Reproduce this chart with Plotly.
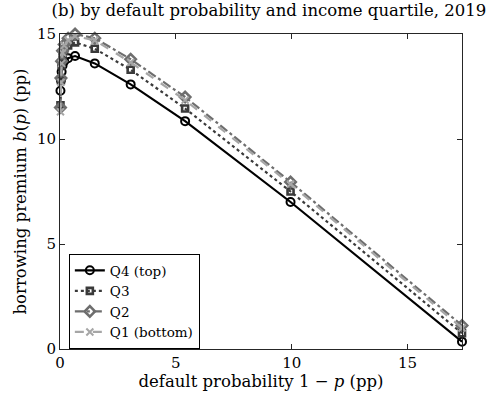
import plotly.graph_objects as go

# Default probability 1 - p (pp), shared by all income quartiles
default_prob = [0.02, 0.04, 0.07, 0.11, 0.18, 0.35, 0.65, 1.5, 3.05, 5.4, 9.95, 17.35]

# Borrowing premium b(p) (pp) by income quartile
q4_top = [12.3, 12.8, 13.2, 13.5, 13.7, 13.85, 13.95, 13.6, 12.6, 10.85, 7.0, 0.35]
q3 = [11.6, 12.8, 13.5, 13.9, 14.2, 14.45, 14.6, 14.3, 13.3, 11.45, 7.5, 0.75]
q2 = [11.5, 12.9, 13.7, 14.2, 14.5, 14.8, 15.0, 14.8, 13.8, 12.0, 7.95, 1.12]
q1_bottom = [11.3, 12.7, 13.6, 14.1, 14.45, 14.7, 14.9, 14.7, 13.65, 11.85, 7.85, 1.0]

x_ticks = [0, 5, 10, 15]
y_ticks = [0, 5, 10, 15]

FONT = "DejaVu Serif"
AX = "#262626"

series = [
    ("Q4 (top)", q4_top, "#000000", "solid", "circle-open", 8, 2.0, 2.2),
    ("Q3", q3, "#3a3a3a", "dot", "square-open", 6, 2.6, 2.2),
    ("Q2", q2, "#6e6e6e", "dashdot", "diamond-open", 8, 2.6, 2.2),
    ("Q1 (bottom)", q1_bottom, "#a6a6a6", "dash", "x-thin-open", 7, 2.0, 2.2),
]

fig = go.Figure()
for name, ys, color, dash, sym, msize, mline, lw in series:
    fig.add_trace(go.Scatter(
        x=default_prob, y=ys, name=name, mode="lines+markers",
        line=dict(color=color, width=lw, dash=dash),
        marker=dict(symbol=sym, size=msize, color=color,
                    line=dict(color=color, width=mline)),
        cliponaxis=False,
    ))

axis_common = dict(
    showline=True, linecolor=AX, linewidth=1, mirror="ticks",
    ticks="inside", ticklen=5, tickcolor=AX, tickwidth=1,
    showgrid=False, zeroline=False,
    tickfont=dict(family=FONT, size=15, color="#000000"),
)

fig.update_layout(
    width=498, height=402,
    margin=dict(l=60, r=36, t=34, b=53),
    paper_bgcolor="white", plot_bgcolor="white",
    title=dict(text="(b) by default probability and income quartile, 2019",
               font=dict(family=FONT, size=16.5, color="#000000"),
               x=0.54, xanchor="center", y=0.99, yanchor="top"),
    xaxis=dict(range=[0, 17.35], tickvals=x_ticks,
               title=dict(text="default probability 1 \u2212 <i>p</i> (pp)",
                          font=dict(family=FONT, size=16.5, color="#000000"),
                          standoff=4),
               **axis_common),
    yaxis=dict(range=[0, 15], tickvals=y_ticks,
               title=dict(text="borrowing premium <i>b</i>(<i>p</i>) (pp)",
                          font=dict(family=FONT, size=16.5, color="#000000"),
                          standoff=6),
               **axis_common),
    legend=dict(x=0.022, y=0.0, xanchor="left", yanchor="bottom",
                bgcolor="white", bordercolor="#000000", borderwidth=1,
                font=dict(family=FONT, size=13.5, color="#000000"),
                tracegroupgap=0, itemwidth=30),
    showlegend=True,
)

fig.write_html("out.html")
